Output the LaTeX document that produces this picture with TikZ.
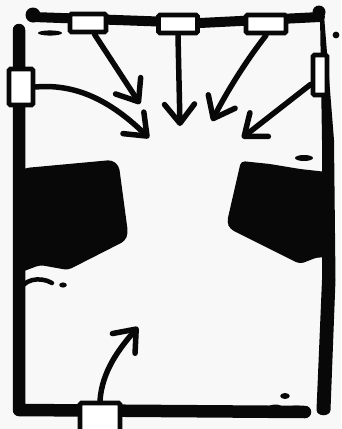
\documentclass[tikz,border=0pt]{standalone}
\usepackage{tikz}
\usetikzlibrary{arrows.meta}
\definecolor{InkBlack}{HTML}{080808}
\definecolor{PaperWhite}{HTML}{F8F8F8}

\begin{document}
\begin{tikzpicture}[x=1pt,y=-1pt,
  port/.style={draw=InkBlack,fill=white,line width=4.8pt,rounded corners=1.5pt,inner sep=0pt},
  feed/.style={draw=InkBlack,line width=5.5pt,line cap=round,
    -{Straight Barb[length=19pt,width=30pt,round]}},
  frame/.style={draw=InkBlack,line cap=round,line join=round}]
\useasboundingbox (0,0) rectangle (341,429);
\fill[PaperWhite] (0,0) rectangle (341,429);
\clip (0,0) rectangle (341,429);
% frame
\draw[frame,line width=10pt] (33,17) -- (200,23) -- (320,17);
\fill[InkBlack] (33,15) circle (7.5);
\fill[InkBlack] (319,12) circle (6.5);
\fill[InkBlack] (320,15) -- (324,15) -- (334,140) -- (335.5,280) -- (330.5,410)
  .. controls (330,417) and (317,417) .. (316.5,410) -- (322,280) -- (322,140) -- cycle;
\draw[frame,line width=12.5pt] (19,30) -- (19,410) -- (305,412);
% black blocks
\fill[InkBlack,rounded corners=4pt] (19,172) -- (25,168) -- (112,160) -- (119,166)
  -- (128,233) -- (125,241) -- (68,270) -- (40,265) -- (19,273) -- cycle;
\fill[InkBlack,rounded corners=4pt] (241,161) -- (270,164) -- (300,169) -- (327,172)
  -- (327,258) -- (318,257) -- (300,264) -- (230,229) -- (227,222) -- cycle;
% stray marks
\draw[frame,line width=4.5pt] (19,293) .. controls (22,279) and (40,276) .. (52,283);
\fill[InkBlack] (63,285) ellipse (3.8 and 2.6);
\fill[InkBlack] (50,33) ellipse (12 and 2.6);
\fill[InkBlack] (336,35) circle (3.4);
\fill[InkBlack] (304,158) ellipse (9 and 3);
\fill[InkBlack] (285,396) ellipse (4.8 and 3);
\fill[InkBlack] (262,412) .. controls (268,402) and (282,403) .. (284,409)
  .. controls (292,405) and (300,403) .. (311,411) .. controls (300,417) and (285,419) .. (262,417) -- cycle;
% ports
\node[port,minimum width=36pt,minimum height=18pt] (topA) at (88,23) {};
\node[port,minimum width=39pt,minimum height=18pt] (topB) at (178,24) {};
\node[port,minimum width=40pt,minimum height=18pt] (topC) at (266,24) {};
\node[port,minimum width=24pt,minimum height=36pt] (left) at (21,87) {};
\node[port,minimum width=14pt,minimum height=40pt] (right) at (320,75) {};
\node[port,minimum width=40pt,minimum height=30pt] (bottom) at (100,418) {};
% targets
\coordinate (tipA) at (140,104);
\coordinate (tipB) at (180,126);
\coordinate (tipC) at (212,121);
\coordinate (tipD) at (149,138);
\coordinate (tipE) at (242,138);
\coordinate (tipF) at (138,327);
% arrows
\draw[feed] (topA.-60) -- (tipA);
\draw[feed] (topB.south) -- (tipB);
\draw[feed] (topC.south) .. controls (245,62) and (225,95) .. (tipC);
\draw[feed] (left.east) .. controls (80,83) and (115,105) .. (tipD);
\draw[feed] (right.-135) -- (tipE);
\draw[feed] (bottom.north) .. controls (102,372) and (118,350) .. (tipF);
\end{tikzpicture}
\end{document}
